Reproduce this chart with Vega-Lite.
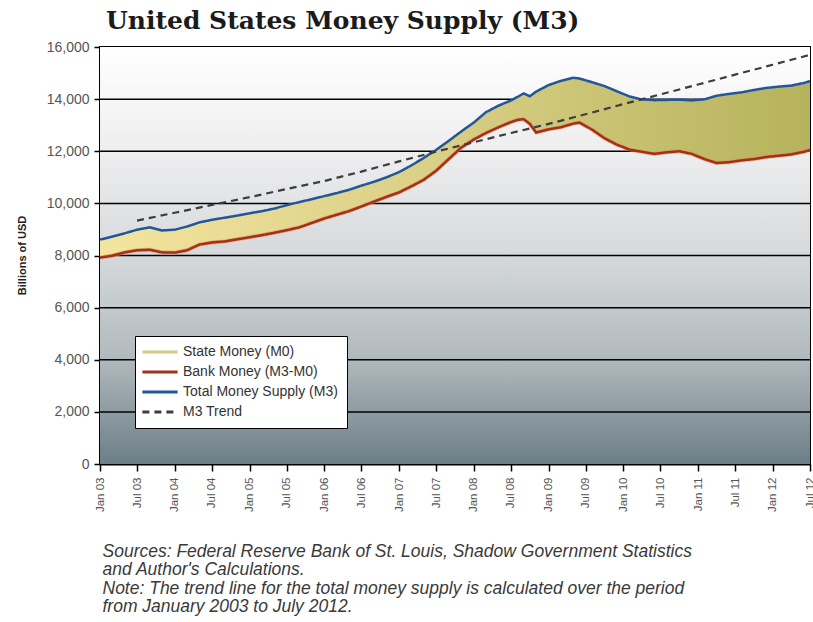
{
  "$schema": "https://vega.github.io/schema/vega-lite/v6.json",
  "width": 710,
  "height": 417,
  "autosize": {"type": "none"},
  "padding": {"left": 100, "top": 47, "right": 3, "bottom": 158},
  "background": "white",
  "title": {
    "text": "United States Money Supply (M3)",
    "anchor": "start",
    "frame": "group",
    "font": "DejaVu Serif",
    "fontSize": 25,
    "fontWeight": "bold",
    "color": "#1b1b1b",
    "offset": -11,
    "dx": 6,
    "dy": 3,
    "baseline": "alphabetic"
  },
  "datasets": {
    "money": [
      {"date": "2003-01-01", "m3": 8610, "bank": 7920},
      {"date": "2003-03-01", "m3": 8720, "bank": 7990},
      {"date": "2003-05-01", "m3": 8850, "bank": 8120},
      {"date": "2003-07-01", "m3": 8990, "bank": 8200},
      {"date": "2003-09-01", "m3": 9080, "bank": 8220},
      {"date": "2003-11-01", "m3": 8960, "bank": 8120},
      {"date": "2004-01-01", "m3": 8990, "bank": 8110},
      {"date": "2004-03-01", "m3": 9110, "bank": 8200},
      {"date": "2004-05-01", "m3": 9270, "bank": 8420},
      {"date": "2004-07-01", "m3": 9370, "bank": 8500},
      {"date": "2004-09-01", "m3": 9450, "bank": 8540},
      {"date": "2004-11-01", "m3": 9530, "bank": 8620},
      {"date": "2005-01-01", "m3": 9620, "bank": 8700},
      {"date": "2005-03-01", "m3": 9700, "bank": 8780},
      {"date": "2005-05-01", "m3": 9800, "bank": 8870},
      {"date": "2005-07-01", "m3": 9930, "bank": 8970},
      {"date": "2005-09-01", "m3": 10050, "bank": 9080},
      {"date": "2005-11-01", "m3": 10160, "bank": 9250},
      {"date": "2006-01-01", "m3": 10280, "bank": 9420},
      {"date": "2006-03-01", "m3": 10390, "bank": 9560},
      {"date": "2006-05-01", "m3": 10520, "bank": 9700},
      {"date": "2006-07-01", "m3": 10680, "bank": 9880},
      {"date": "2006-09-01", "m3": 10830, "bank": 10070},
      {"date": "2006-11-01", "m3": 11000, "bank": 10250},
      {"date": "2007-01-01", "m3": 11200, "bank": 10420},
      {"date": "2007-03-01", "m3": 11450, "bank": 10650},
      {"date": "2007-05-01", "m3": 11740, "bank": 10900},
      {"date": "2007-07-01", "m3": 12050, "bank": 11250},
      {"date": "2007-09-01", "m3": 12400, "bank": 11700},
      {"date": "2007-11-01", "m3": 12760, "bank": 12140},
      {"date": "2008-01-01", "m3": 13100, "bank": 12450},
      {"date": "2008-03-01", "m3": 13500, "bank": 12700},
      {"date": "2008-05-01", "m3": 13750, "bank": 12920},
      {"date": "2008-07-01", "m3": 13950, "bank": 13120},
      {"date": "2008-08-01", "m3": 14080, "bank": 13200},
      {"date": "2008-09-01", "m3": 14220, "bank": 13230},
      {"date": "2008-10-01", "m3": 14110, "bank": 13050},
      {"date": "2008-11-01", "m3": 14290, "bank": 12720},
      {"date": "2009-01-01", "m3": 14540, "bank": 12840},
      {"date": "2009-03-01", "m3": 14700, "bank": 12920},
      {"date": "2009-05-01", "m3": 14820, "bank": 13060},
      {"date": "2009-06-01", "m3": 14790, "bank": 13100},
      {"date": "2009-08-01", "m3": 14650, "bank": 12830},
      {"date": "2009-10-01", "m3": 14500, "bank": 12500},
      {"date": "2009-12-01", "m3": 14300, "bank": 12250},
      {"date": "2010-02-01", "m3": 14100, "bank": 12060},
      {"date": "2010-04-01", "m3": 13990, "bank": 11980},
      {"date": "2010-06-01", "m3": 13960, "bank": 11900},
      {"date": "2010-08-01", "m3": 13970, "bank": 11960},
      {"date": "2010-10-01", "m3": 13980, "bank": 12000},
      {"date": "2010-12-01", "m3": 13950, "bank": 11900},
      {"date": "2011-02-01", "m3": 13990, "bank": 11700},
      {"date": "2011-04-01", "m3": 14130, "bank": 11550},
      {"date": "2011-06-01", "m3": 14200, "bank": 11580},
      {"date": "2011-08-01", "m3": 14260, "bank": 11650},
      {"date": "2011-10-01", "m3": 14350, "bank": 11700},
      {"date": "2011-12-01", "m3": 14430, "bank": 11780},
      {"date": "2012-02-01", "m3": 14480, "bank": 11830},
      {"date": "2012-04-01", "m3": 14520, "bank": 11880},
      {"date": "2012-06-01", "m3": 14620, "bank": 11980},
      {"date": "2012-07-01", "m3": 14690, "bank": 12050}
    ],
    "trend": [
      {"date": "2003-07-01", "trend": 9340},
      {"date": "2004-01-01", "trend": 9640},
      {"date": "2004-07-01", "trend": 9940},
      {"date": "2005-01-01", "trend": 10240},
      {"date": "2005-07-01", "trend": 10550},
      {"date": "2006-01-01", "trend": 10860},
      {"date": "2006-07-01", "trend": 11220},
      {"date": "2007-01-01", "trend": 11610},
      {"date": "2007-07-01", "trend": 11985},
      {"date": "2008-01-01", "trend": 12345},
      {"date": "2008-07-01", "trend": 12700},
      {"date": "2009-01-01", "trend": 13050},
      {"date": "2009-07-01", "trend": 13420},
      {"date": "2010-01-01", "trend": 13810},
      {"date": "2010-07-01", "trend": 14180},
      {"date": "2011-01-01", "trend": 14560},
      {"date": "2011-07-01", "trend": 14940},
      {"date": "2012-01-01", "trend": 15320},
      {"date": "2012-07-01", "trend": 15700}
    ],
    "grid": [
      {"v": 2000}, {"v": 4000}, {"v": 6000}, {"v": 8000}, {"v": 10000}, {"v": 12000}, {"v": 14000}
    ]
  },
  "config": {
    "view": {"stroke": "#000000", "strokeWidth": 2}
  },
  "layer": [
    {
      "data": {"values": [{}]},
      "mark": {
        "type": "rect",
        "color": {
          "gradient": "linear", "x1": 0, "y1": 0, "x2": 0, "y2": 1,
          "stops": [
            {"offset": 0, "color": "#ffffff"},
            {"offset": 0.25, "color": "#eeeeef"},
            {"offset": 0.5, "color": "#d6d9db"},
            {"offset": 0.75, "color": "#b0b9bd"},
            {"offset": 1, "color": "#6c7e87"}
          ]
        }
      },
      "encoding": {
        "x": {
          "datum": {"year": 2003, "month": 1, "date": 1, "utc": true},
          "type": "temporal",
          "scale": {"type": "utc", "domain": [{"year": 2003, "month": 1, "date": 1, "utc": true}, {"year": 2012, "month": 7, "date": 1, "utc": true}]},
          "axis": {
            "tickCount": {"interval": "month", "step": 6},
            "format": "%b %y",
            "labelAngle": -90,
            "labelFlush": false,
            "labelOverlap": false,
            "labelFont": "Liberation Sans",
            "labelFontSize": 11.5,
            "labelColor": "#555555",
            "labelPadding": 6,
            "tickColor": "#000000",
            "tickSize": 7,
            "tickWidth": 1.5,
            "domainColor": "#000000",
            "domainWidth": 2,
            "grid": false,
            "title": [
              "Sources: Federal Reserve Bank of St. Louis, Shadow Government Statistics",
              "and Author's Calculations.",
              "Note: The trend line for the total money supply is calculated over the period",
              "from January 2003 to July 2012."
            ],
            "titleFont": "Liberation Sans",
            "titleFontStyle": "italic",
            "titleFontWeight": "normal",
            "titleFontSize": 17.5,
            "titleColor": "#3a3a3a",
            "titleAnchor": "start",
            "titleAlign": "left",
            "titleBaseline": "top",
            "titleX": 2,
            "titleY": 78,
            "titleLineHeight": 18.5
          }
        },
        "x2": {"datum": {"year": 2012, "month": 7, "date": 1, "utc": true}},
        "y": {
          "datum": 0,
          "type": "quantitative",
          "scale": {"domain": [0, 16000], "nice": false},
          "axis": {
            "values": [0, 2000, 4000, 6000, 8000, 10000, 12000, 14000, 16000],
            "format": ",d",
            "labelFont": "Liberation Sans",
            "labelFontSize": 14,
            "labelColor": "#555555",
            "labelPadding": 5,
            "tickColor": "#000000",
            "tickSize": 6,
            "tickWidth": 1.5,
            "domain": false,
            "grid": false,
            "title": "Billions of USD",
            "titleFont": "Liberation Sans",
            "titleFontSize": 11,
            "titleFontWeight": "bold",
            "titleColor": "#222222",
            "titleAngle": -90,
            "titleAlign": "center",
            "titleBaseline": "middle",
            "titleX": -78,
            "titleY": 208
          }
        },
        "y2": {"datum": 16000}
      }
    },
    {
      "data": {"name": "grid"},
      "mark": {"type": "rule", "color": "#000000", "strokeWidth": 1.5},
      "encoding": {"y": {"field": "v", "type": "quantitative"}}
    },
    {
      "data": {"name": "money"},
      "mark": {
        "type": "area",
        "fill": {
          "gradient": "linear", "x1": 0, "y1": 0, "x2": 1, "y2": 0,
          "stops": [
            {"offset": 0, "color": "#f3e49e"},
            {"offset": 0.5, "color": "#d8ce84"},
            {"offset": 1, "color": "#b5b35b"}
          ]
        }
      },
      "encoding": {
        "x": {"field": "date", "type": "temporal"},
        "y": {"field": "bank", "type": "quantitative"},
        "y2": {"field": "m3"}
      }
    },
    {
      "data": {"name": "money"},
      "mark": {"type": "line", "color": "#e58c52", "strokeWidth": 4, "opacity": 0.6},
      "encoding": {
        "x": {"field": "date", "type": "temporal"},
        "y": {"field": "bank", "type": "quantitative"}
      }
    },
    {
      "data": {"name": "money"},
      "mark": {"type": "line", "strokeWidth": 2.5},
      "encoding": {
        "x": {"field": "date", "type": "temporal"},
        "y": {"field": "bank", "type": "quantitative"},
        "color": {
          "datum": "Bank Money (M3-M0)",
          "type": "nominal",
          "scale": {
            "type": "ordinal",
            "domain": ["State Money (M0)", "Bank Money (M3-M0)", "Total Money Supply (M3)", "M3 Trend"],
            "range": ["#d3cb82", "#a3301b", "#22569a", "#3d3d3d"]
          },
          "legend": {
            "orient": "none", "legendX": 35, "legendY": 289, "title": null,
            "fillColor": "#ffffff", "strokeColor": "#000000", "padding": 9,
            "symbolType": "M-4.4,0H4.4", "symbolSize": 64, "symbolOffset": 9,
            "symbolStrokeWidth": 3,
            "labelOffset": 16, "rowPadding": 6,
            "labelFont": "Liberation Sans", "labelFontSize": 14,
            "labelColor": "#333333", "labelLimit": 300
          }
        },
        "strokeDash": {
          "datum": "Bank Money (M3-M0)",
          "type": "nominal",
          "scale": {
            "type": "ordinal",
            "domain": ["State Money (M0)", "Bank Money (M3-M0)", "Total Money Supply (M3)", "M3 Trend"],
            "range": [[1, 0], [1, 0], [1, 0], [7, 5]]
          },
          "legend": {
            "orient": "none", "legendX": 35, "legendY": 289, "title": null,
            "fillColor": "#ffffff", "strokeColor": "#000000", "padding": 9,
            "symbolType": "M-4.4,0H4.4", "symbolSize": 64, "symbolOffset": 9,
            "symbolStrokeWidth": 3,
            "labelOffset": 16, "rowPadding": 6,
            "labelFont": "Liberation Sans", "labelFontSize": 14,
            "labelColor": "#333333", "labelLimit": 300
          }
        }
      }
    },
    {
      "data": {"name": "money"},
      "mark": {"type": "line", "strokeWidth": 2.5},
      "encoding": {
        "x": {"field": "date", "type": "temporal"},
        "y": {"field": "m3", "type": "quantitative"},
        "color": {"datum": "Total Money Supply (M3)", "type": "nominal"},
        "strokeDash": {"datum": "Total Money Supply (M3)", "type": "nominal"}
      }
    },
    {
      "data": {"name": "trend"},
      "mark": {"type": "line", "strokeWidth": 2.2},
      "encoding": {
        "x": {"field": "date", "type": "temporal"},
        "y": {"field": "trend", "type": "quantitative"},
        "color": {"datum": "M3 Trend", "type": "nominal"},
        "strokeDash": {"datum": "M3 Trend", "type": "nominal"}
      }
    }
  ]
}
